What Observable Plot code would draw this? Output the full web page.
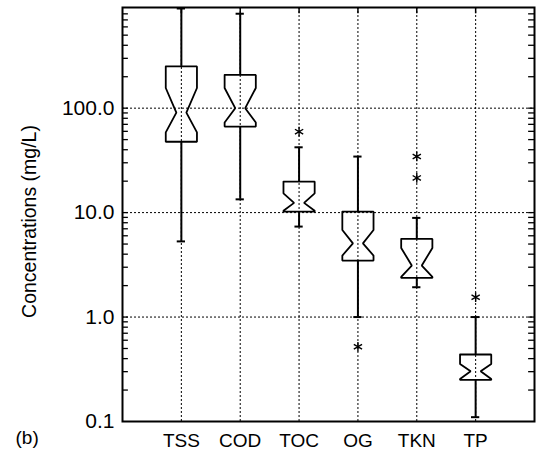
<!DOCTYPE html>
<html><head><meta charset="utf-8">
<script src="https://cdn.jsdelivr.net/npm/d3@7"></script>
<script src="https://cdn.jsdelivr.net/npm/@observablehq/plot@0.6"></script>
<style>html,body{margin:0;padding:0;background:#fff} svg{display:block}</style>
</head><body><div id="chart"></div>
<script>
const categories = ["TSS", "COD", "TOC", "OG", "TKN", "TP"];
const whiskerLow  = [5.3, 13.4, 7.35, 1.0, 1.93, 0.11];
const quartile1   = [47.7, 66.6, 10.2, 3.47, 2.37, 0.25];
const notchLow    = [58.6, 73, 10.4, 3.88, 2.42, 0.255];
const medians     = [90.6, 100, 12.4, 5.08, 3.11, 0.303];
const notchHigh   = [156, 156, 15.3, 6.82, 4.59, 0.356];
const quartile3   = [251, 208, 19.8, 10.2, 5.6, 0.438];
const whiskerHigh = [900, 802, 42.2, 34.4, 8.9, 1.0];
const outlierCategory = ["TOC", "OG", "TKN", "TKN", "TP"];
const outlierValue    = [59.6, 0.52, 21.5, 34.4, 1.55];
const yTickValues = [0.1, 1, 10, 100];
const yTickLabels = ["0.1", "1.0", "10.0", "100.0"];
const minorTicks = [0.2,0.3,0.4,0.5,0.6,0.7,0.8,0.9,1,2,3,4,5,6,7,8,9,10,20,30,40,50,60,70,80,90,100,200,300,400,500,600,700,800];

const boxHalf = 0.265, notchHalf = 0.085, capHalf = 0.07, tickLen = 0.1;
const xDomain = [0, 7], yDomain = [0.1, 920];
const positions = categories.map((c, i) => i + 1);
const rows = categories.map((c, i) => ({
  c, pos: i + 1, lo: whiskerLow[i], q1: quartile1[i], nLo: notchLow[i],
  med: medians[i], nHi: notchHigh[i], q3: quartile3[i], hi: whiskerHigh[i]
}));
const outline = rows.flatMap(r => [
  [r.pos - boxHalf, r.q3], [r.pos + boxHalf, r.q3], [r.pos + boxHalf, r.nHi],
  [r.pos + notchHalf, r.med], [r.pos + boxHalf, r.nLo], [r.pos + boxHalf, r.q1],
  [r.pos - boxHalf, r.q1], [r.pos - boxHalf, r.nLo], [r.pos - notchHalf, r.med],
  [r.pos - boxHalf, r.nHi], [r.pos - boxHalf, r.q3]
].map(([x, y]) => ({c: r.c, x, y})));
const outliers = outlierCategory.map((c, i) => ({pos: categories.indexOf(c) + 1, v: outlierValue[i]}));

const font = "'Liberation Sans', Arial, Helvetica, sans-serif";
const chart = Plot.plot({
  width: 539, height: 454,
  marginLeft: 122, marginRight: 5, marginTop: 7, marginBottom: 33,
  style: {fontFamily: font, fontSize: "19px", color: "#000", background: "#fff"},
  x: {type: "linear", domain: xDomain},
  y: {type: "log", domain: yDomain},
  marks: [
    Plot.gridY([1, 10, 100], {stroke: "#000", strokeOpacity: 1, strokeWidth: 1, strokeDasharray: "2,2"}),
    Plot.gridX(positions, {stroke: "#000", strokeOpacity: 1, strokeWidth: 1, strokeDasharray: "2,2"}),
    Plot.ruleX(rows, {x: "pos", y1: "q3", y2: "hi", stroke: "#000", strokeWidth: 2}),
    Plot.ruleX(rows, {x: "pos", y1: "lo", y2: "q1", stroke: "#000", strokeWidth: 2}),
    Plot.ruleY(rows, {y: "hi", x1: d => d.pos - capHalf, x2: d => d.pos + capHalf, stroke: "#000", strokeWidth: 2}),
    Plot.ruleY(rows, {y: "lo", x1: d => d.pos - capHalf, x2: d => d.pos + capHalf, stroke: "#000", strokeWidth: 2}),
    Plot.line(outline, {x: "x", y: "y", z: "c", stroke: "#000", strokeWidth: 1.8, strokeLinejoin: "miter"}),
    Plot.dot(outliers, {x: "pos", y: "v", symbol: "asterisk", r: 4.5, stroke: "#000", strokeWidth: 1.4}),
    Plot.ruleY(minorTicks, {y: d => d, x1: xDomain[0], x2: xDomain[0] + tickLen, stroke: "#000", strokeWidth: 1.3}),
    Plot.ruleY(minorTicks, {y: d => d, x1: xDomain[1] - tickLen, x2: xDomain[1], stroke: "#000", strokeWidth: 1.3}),
    Plot.ruleX(positions, {x: d => d, y1: yDomain[1], y2: yDomain[1] * 0.87, stroke: "#000", strokeWidth: 1.5}),
    Plot.axisY({anchor: "left", ticks: yTickValues, tickSize: 0, tickPadding: 8, fontSize: 21,
      tickFormat: d => yTickLabels[yTickValues.indexOf(d)], label: null}),
    Plot.axisX({anchor: "bottom", ticks: positions, tickSize: 0, tickPadding: 12,
      tickFormat: d => categories[d - 1], label: null}),
    Plot.frame({stroke: "#000", strokeWidth: 2}),
    Plot.text(["Concentrations (mg/L)"], {frameAnchor: "left", textAnchor: "middle", rotate: -90, dx: -93, dy: 7, fontSize: 19.5}),
    Plot.text(["(b)"], {frameAnchor: "bottom-left", textAnchor: "start", dx: -107, dy: 22, fontSize: 19})
  ]
});
document.getElementById("chart").append(chart);
</script>
</body></html>
